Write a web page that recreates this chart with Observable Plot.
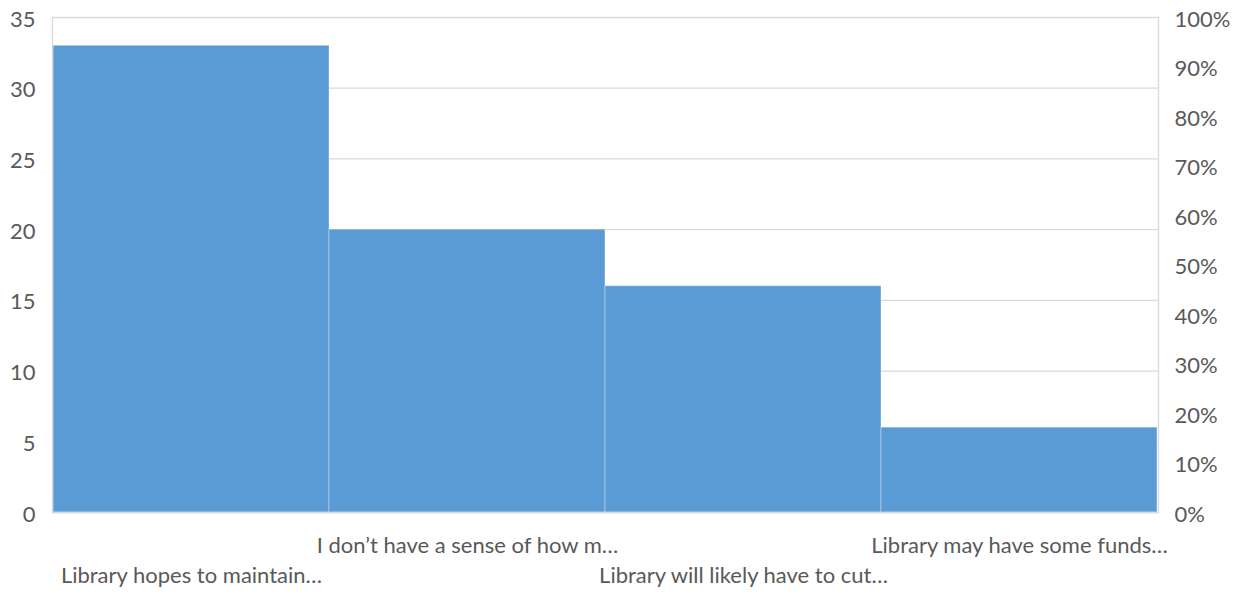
<!DOCTYPE html>
<html>
<head>
<meta charset="utf-8">
<script src="https://cdn.jsdelivr.net/npm/d3@7"></script>
<script src="https://cdn.jsdelivr.net/npm/@observablehq/plot@0.6"></script>
<style>
  html, body { margin: 0; padding: 0; background: #fff; }
  #chart svg { display: block; }
</style>
</head>
<body>
<div id="chart"></div>
<script>
const categories = [
  "Library hopes to maintain…",
  "I don’t have a sense of how m…",
  "Library will likely have to cut…",
  "Library may have some funds…"
];
const counts = [33, 20, 16, 6];
const leftTicks = [0, 5, 10, 15, 20, 25, 30, 35];
const rightTickPercents = [0, 10, 20, 30, 40, 50, 60, 70, 80, 90, 100];
const yMax = 35;

const data = categories.map((c, i) => ({category: c, count: counts[i]}));
const rightTicks = rightTickPercents.map(p => p / 100 * yMax);
const upperRow = categories.filter((c, i) => i % 2 === 1);
const lowerRow = categories.filter((c, i) => i % 2 === 0);

const font = "Lato, 'Liberation Sans', sans-serif";
const textColor = "#595959";
const gridColor = "#d9d9d9";
const fs = 22;

const chart = Plot.plot({
  width: 1242,
  height: 593,
  marginLeft: 52,
  marginRight: 84,
  marginTop: 17,
  marginBottom: 81,
  style: {fontFamily: font, fontSize: fs + "px", color: textColor, background: "#fff"},
  x: {domain: categories, padding: 0, label: null},
  y: {domain: [0, yMax], label: null},
  marks: [
    Plot.gridY(leftTicks, {stroke: gridColor, strokeOpacity: 1, strokeWidth: 1.3}),
    Plot.barY(data, {
      x: "category", y: "count", fill: "#5b9bd5",
      stroke: "#ffffff", strokeOpacity: 0.35, strokeWidth: 1, inset: 0
    }),
    Plot.frame({anchor: "left", stroke: gridColor, strokeOpacity: 1, strokeWidth: 1.3}),
    Plot.frame({anchor: "right", stroke: gridColor, strokeOpacity: 1, strokeWidth: 1.3}),
    Plot.frame({anchor: "bottom", stroke: gridColor, strokeOpacity: 1, strokeWidth: 1.3}),
    Plot.axisY(leftTicks, {anchor: "left", tickSize: 0, tickPadding: 17, dy: 2, fill: textColor, fontSize: fs, label: null}),
    Plot.axisY(rightTicks, {
      anchor: "right", tickSize: 0, tickPadding: 16, dy: 2, fill: textColor, fontSize: fs, label: null,
      tickFormat: (d) => Math.round(d / yMax * 100) + "%"
    }),
    Plot.axisX(upperRow, {anchor: "bottom", tickSize: 0, tickPadding: 25, fill: textColor, fontSize: fs, label: null, tickFormat: d => d}),
    Plot.axisX(lowerRow, {anchor: "bottom", tickSize: 0, tickPadding: 55, fill: textColor, fontSize: fs, label: null, tickFormat: d => d})
  ]
});
document.getElementById("chart").append(chart);
</script>
</body>
</html>
